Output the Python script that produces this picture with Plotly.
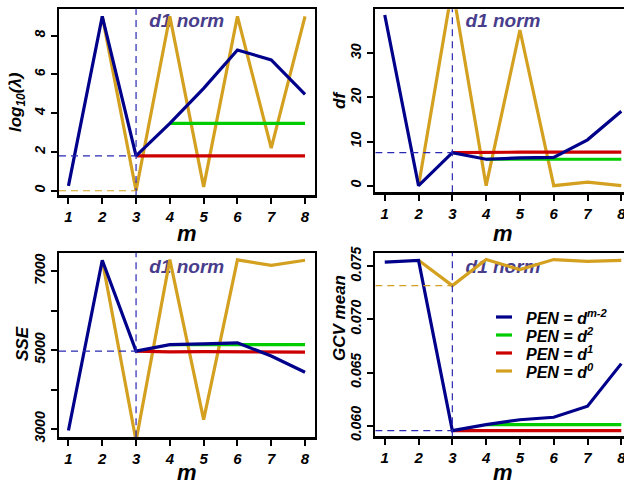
import plotly.graph_objects as go

W, H = 624, 487

# ---------------- data ----------------
m = [1, 2, 3, 4, 5, 6, 7, 8]

series_names = ["PEN = d<sup>m-2</sup>", "PEN = d<sup>2</sup>", "PEN = d<sup>1</sup>", "PEN = d<sup>0</sup>"]
series_colors = ["#00008B", "#00CC00", "#CC0000", "#D4A020"]

loglam_dm2 = [0.25, 9.0, 1.8, 3.48, 5.28, 7.26, 6.75, 4.97]
loglam_d2 = [None, None, None, 3.48, 3.48, 3.48, 3.48, 3.48]
loglam_d1 = [None, None, 1.8, 1.8, 1.8, 1.8, 1.8, 1.8]
loglam_d0 = [None, 9.0, 0.0, 9.0, 0.2, 9.0, 2.2, 9.0]

df_dm2 = [38.7, 0.0, 7.5, 6.0, 6.3, 6.4, 10.4, 16.9]
df_d2 = [None, None, None, 6.0, 6.0, 6.0, 6.0, 6.0]
df_d1 = [None, None, 7.5, 7.6, 7.6, 7.6, 7.6, 7.6]
df_d0 = [None, 0.0, 45.0, 0.0, 35.3, 0.0, 0.8, 0.0]

sse_dm2 = [2960, 7280, 4975, 5140, 5160, 5185, 4850, 4440]
sse_d2 = [None, None, None, 5140, 5140, 5140, 5140, 5140]
sse_d1 = [None, None, 4975, 4955, 4960, 4955, 4950, 4950]
sse_d0 = [None, 7280, 2700, 7295, 3236, 7290, 7150, 7280]

gcv_dm2 = [0.07540, 0.07556, 0.05953, 0.06010, 0.06056, 0.06079, 0.06183, 0.06584]
gcv_d2 = [None, None, None, 0.06010, 0.06010, 0.06010, 0.06010, 0.06010]
gcv_d1 = [None, None, 0.05953, 0.05953, 0.05953, 0.05953, 0.05953, 0.05953]
gcv_d0 = [None, 0.07556, 0.07318, 0.07563, 0.07469, 0.07563, 0.07547, 0.07556]

y_titles = ["log<sub>10</sub>(λ)", "df", "SSE", "GCV mean"]
x_title = "m"
note_text = "d1 norm"
selected_m = 3

y_tickvals = [[0, 2, 4, 6, 8], [0, 10, 20, 30], [3000, 5000, 7000], [0.060, 0.065, 0.070, 0.075]]
y_ticktext = [["0", "2", "4", "6", "8"], ["0", "10", "20", "30"],
              ["3000", "5000", "7000"], ["0.060", "0.065", "0.070", "0.075"]]
y_minor_ticks = [[], [], [4000, 6000], []]

panels = [
    [loglam_dm2, loglam_d2, loglam_d1, loglam_d0],
    [df_dm2, df_d2, df_d1, df_d0],
    [sse_dm2, sse_d2, sse_d1, sse_d0],
    [gcv_dm2, gcv_d2, gcv_d1, gcv_d0],
]

# ---------------- layout geometry (pixels) ----------------
FONT = "Liberation Sans, Arial, sans-serif"
# (left, right, top, bottom) of each plotting box in px
boxes = [(59, 314.5, 9.3, 195), (375.3, 624, 9.3, 192.3),
         (59, 314.5, 253, 437.3), (375.3, 624, 253, 436.3)]
y_ranges = [[-0.22, 9.36], [-1.5, 40.0], [2789, 7464], [0.0590, 0.07625]]
x_ranges = [[0.72, 8.28], [0.72, 8.08], [0.72, 8.28], [0.72, 8.08]]
note_y = [8.67, 36.96, 7084, 0.07484]
ytitle_pos = [(17, 102), (339, 100), (22, 344), (339, 318)]

fig = go.Figure()
order = [3, 2, 1, 0]  # draw orange, red, green, blue (blue on top)

for p in range(4):
    xa = "x" if p == 0 else f"x{p+1}"
    ya = "y" if p == 0 else f"y{p+1}"
    # note text under the lines
    fig.add_trace(go.Scatter(
        x=[4.5], y=[note_y[p]], mode="text", text=[note_text],
        textfont=dict(family=FONT, size=19, color="#483D8B", weight="bold", style="italic"),
        xaxis=xa, yaxis=ya, showlegend=False, hoverinfo="skip"))
    for s in order:
        fig.add_trace(go.Scatter(
            x=m, y=panels[p][s], mode="lines", name=series_names[s],
            line=dict(color=series_colors[s], width=3.2),
            xaxis=xa, yaxis=ya, showlegend=False, connectgaps=False, hoverinfo="skip"))

    l, r, t, b = boxes[p]
    lo, hi = y_ranges[p]
    right_cut = p in (1, 3)
    axis_font = dict(family=FONT, size=14, color="black", weight="bold", style="italic")
    xfont = dict(family=FONT, size=15, color="black", weight="bold", style="italic")
    fig.layout[("xaxis" if p == 0 else f"xaxis{p+1}")] = dict(
        domain=[l / W, r / W], anchor=ya, range=x_ranges[p], automargin=False,
        tickvals=m, ticktext=[str(v) for v in m], ticks="outside", ticklen=6, tickwidth=2,
        tickcolor="black", showline=True, linecolor="black", linewidth=2.5, mirror=True,
        showgrid=False, zeroline=False, tickfont=xfont, fixedrange=True,
        ticklabeloverflow="allow")
    yax = dict(
        domain=[(H - b) / H, (H - t) / H], anchor=xa, range=[lo, hi], automargin=False,
        tickvals=y_tickvals[p], ticktext=y_ticktext[p], tickangle=-90,
        ticks="outside", ticklen=6, tickwidth=2, tickcolor="black",
        showline=True, linecolor="black", linewidth=2.5, mirror=not right_cut,
        showgrid=False, zeroline=False, tickfont=axis_font, fixedrange=True,
        ticklabeloverflow="allow")
    if y_minor_ticks[p]:
        yax["minor"] = dict(tickmode="array", tickvals=y_minor_ticks[p], ticks="outside",
                            ticklen=6, tickwidth=2, tickcolor="black", showgrid=False)
    fig.layout[("yaxis" if p == 0 else f"yaxis{p+1}")] = yax

    # reference dashed lines at the selected m
    i = m.index(selected_m)
    fig.add_shape(type="line", xref=xa, yref=f"{ya} domain", x0=selected_m, x1=selected_m,
                  y0=0, y1=1, line=dict(color="#2828B4", width=1.2, dash="7px,5px"))
    fig.add_shape(type="line", xref=xa, yref=ya, x0=x_ranges[p][0], x1=selected_m,
                  y0=panels[p][0][i], y1=panels[p][0][i],
                  line=dict(color="#2828B4", width=1.2, dash="7px,5px"))
    v0 = panels[p][3][i]
    if lo <= v0 <= hi:
        fig.add_shape(type="line", xref=xa, yref=ya, x0=x_ranges[p][0], x1=selected_m,
                      y0=v0, y1=v0, line=dict(color=series_colors[3], width=1.2, dash="7px,5px"))

    # axis titles
    tx, ty = ytitle_pos[p]
    fig.add_annotation(x=tx / W, y=(H - ty) / H, xref="paper", yref="paper", text=y_titles[p],
                       textangle=-90, showarrow=False, xanchor="center", yanchor="middle",
                       font=dict(family=FONT, size=17, color="black", weight="bold", style="italic"))
    cx = (l + (r if not right_cut else l + (314.5 - 59))) / 2
    if p < 2:
        fig.add_annotation(x=cx / W, y=(H - 233) / H, xref="paper", yref="paper", text=x_title,
                           showarrow=False, xanchor="center", yanchor="middle",
                           font=dict(family=FONT, size=22, color="black", weight="bold", style="italic"))
    else:
        fig.add_annotation(x=cx / W, y=0, xref="paper", yref="paper", text=x_title,
                           showarrow=False, xanchor="center", yanchor="bottom",
                           font=dict(family=FONT, size=22, color="black", weight="bold", style="italic"))

# manual legend in the GCV panel
leg_rows = [317, 335, 353, 371]
for k in range(4):
    yy = (H - leg_rows[k]) / H
    fig.add_shape(type="line", xref="paper", yref="paper", x0=496 / W, x1=512 / W, y0=yy, y1=yy,
                  line=dict(color=series_colors[k], width=3.2))
    fig.add_annotation(x=524 / W, y=yy, xref="paper", yref="paper", text=series_names[k],
                       showarrow=False, xanchor="left", yanchor="middle",
                       font=dict(family=FONT, size=16, color="black", weight="bold", style="italic"))

fig.update_layout(width=W, height=H, margin=dict(l=0, r=0, t=0, b=0), template="none",
                  paper_bgcolor="white", plot_bgcolor="white", showlegend=False, hovermode=False)

fig.write_html("out.html", config={"displayModeBar": False, "staticPlot": True},
               post_script="document.body.style.margin='0';document.body.style.overflow='hidden';")
